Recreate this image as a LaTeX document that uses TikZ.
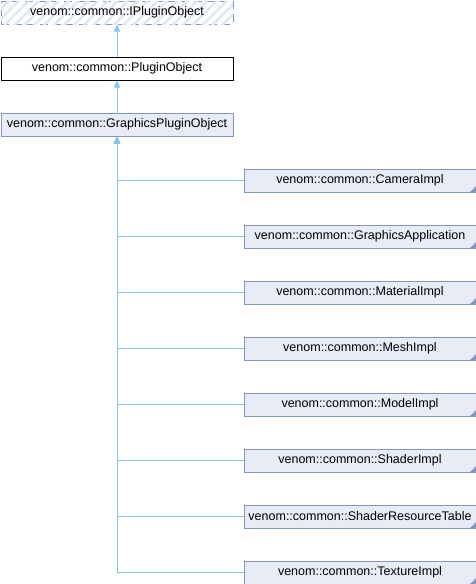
\documentclass[tikz,border=0pt]{standalone}
\usepackage{fontspec}
\setmainfont{Liberation Sans}
\usetikzlibrary{arrows.meta,patterns.meta}
\definecolor{boxfill}{RGB}{232,236,246}
\definecolor{boxdraw}{RGB}{132,150,200}
\definecolor{edgecol}{RGB}{135,196,232}
\definecolor{hatchcol}{RGB}{225,231,242}
\tikzset{
  base/.style={rectangle, inner sep=0pt, anchor=north west, line width=1pt,
    font=\fontsize{12.5}{14}\selectfont, text=black},
  parentbox/.style={base, minimum width=232pt, minimum height=23pt},
  childbox/.style={base, minimum width=232pt, minimum height=23pt, draw=boxdraw, fill=boxfill,
    path picture={\fill[boxdraw] (path picture bounding box.south east) -- ++(-6pt,0) -- ++(6pt,6pt) -- cycle;}},
  ifacebox/.style={parentbox, draw=boxdraw, dash pattern=on 8pt off 5pt, fill=white,
    postaction={pattern={Lines[angle=45,distance=7pt,line width=2.5pt]}, pattern color=hatchcol}},
  plainbox/.style={parentbox, draw=black, fill=white},
  gbox/.style={parentbox, draw=boxdraw, fill=boxfill},
  inherit/.style={draw=edgecol, line width=1pt, -{Triangle[width=6pt,length=7pt]}},
}
\begin{document}
\begin{tikzpicture}[x=1pt,y=-1pt]
\useasboundingbox (0,0) rectangle (476,584);
\node[ifacebox] (ipo) at (0.5,0.5) {venom::common::IPluginObject};
\node[plainbox] (po) at (0.5,56.5) {venom::common::PluginObject};
\node[gbox] (gpo) at (0.5,112.5) {venom::common::GraphicsPluginObject};
\draw[inherit] (po.north) -- (ipo.south);
\draw[inherit] (gpo.north) -- (po.south);
\node[childbox] (c1) at (243.5,168.5) {venom::common::CameraImpl};
\node[childbox] (c2) at (243.5,224.5) {venom::common::GraphicsApplication};
\node[childbox] (c3) at (243.5,280.5) {venom::common::MaterialImpl};
\node[childbox] (c4) at (243.5,336.5) {venom::common::MeshImpl};
\node[childbox] (c5) at (243.5,392.5) {venom::common::ModelImpl};
\node[childbox] (c6) at (243.5,448.5) {venom::common::ShaderImpl};
\node[childbox] (c7) at (243.5,504.5) {venom::common::ShaderResourceTable};
\node[childbox] (c8) at (243.5,560.5) {venom::common::TextureImpl};
\foreach \c in {c1,c2,c3,c4,c5,c6,c7,c8}
  \draw[inherit] (\c.west) -| (gpo.south);
\end{tikzpicture}
\end{document}
